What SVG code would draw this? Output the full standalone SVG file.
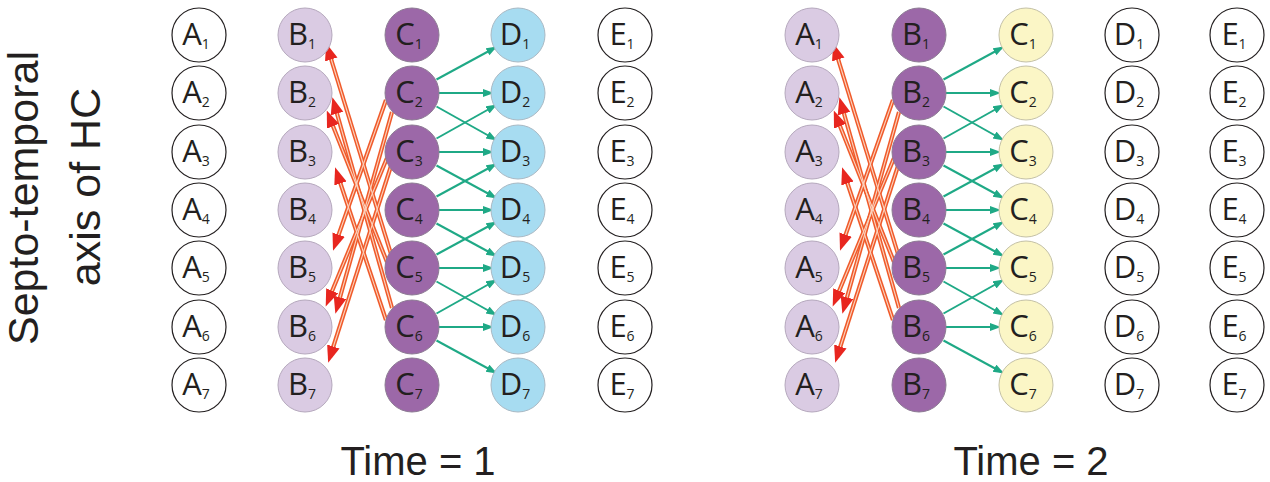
<svg xmlns="http://www.w3.org/2000/svg" width="1270" height="482" viewBox="0 0 1270 482">
<style>
.wh{fill:#ffffff;stroke:#231f20;stroke-width:1.2}
.lp{fill:#dacbe3;stroke:#b5a8bd;stroke-width:1}
.dp{fill:#9c68a8;stroke:#8c7a93;stroke-width:1}
.cy{fill:#a7dcf1;stroke:#a9b9c4;stroke-width:1}
.yl{fill:#fbf6c6;stroke:#c4c1a6;stroke-width:1}
.nodes text{font-family:"Open Sans","Noto Sans",sans-serif;font-size:31px;fill:#231f20;text-anchor:middle}
.s{font-size:14px}
.big{font-family:"Liberation Sans",Arial,sans-serif;fill:#231f20;text-anchor:middle}
.g{fill:none;stroke:#1fa986;stroke-width:2;marker-end:url(#gh)}
.ro{fill:none;stroke:#f05a2a;stroke-width:4.2}
.ri{fill:none;stroke:#fbd3bf;stroke-width:1.1;marker-end:url(#rh)}
</style>
<defs>
<marker id="gh" markerUnits="userSpaceOnUse" markerWidth="12" markerHeight="9" refX="8" refY="4" orient="auto"><path d="M0,0 L11,4 L0,8 z" fill="#1fa986"/></marker>
<marker id="rh" markerUnits="userSpaceOnUse" markerWidth="18" markerHeight="14" refX="11" refY="6.5" orient="auto"><path d="M0,0 L17,6.5 L0,13 z" fill="#e8261f"/></marker>
</defs>
<rect width="1270" height="482" fill="#ffffff"/>
<text class="big" font-size="43" transform="translate(38,198) rotate(-90)">Septo-temporal</text>
<text class="big" font-size="43" transform="translate(100,187) rotate(-90)">axis of HC</text>
<text class="big" font-size="40" x="418" y="475">Time = 1</text>
<text class="big" font-size="40" x="1031" y="475">Time = 2</text>
<g id="connectors">
<g id="red-left">
<path class="ro" d="M391 254 L328 49"/><path class="ro" d="M387 262 L329 116"/><path class="ro" d="M392 308 L334 103"/><path class="ro" d="M386 320 L337 173"/>
<path class="ro" d="M386 100 L335 245"/><path class="ro" d="M392 112 L337 308"/><path class="ro" d="M387 158 L328 301"/><path class="ro" d="M391 166 L330 357"/>
<path class="ri" d="M391 254 L328 49"/><path class="ri" d="M387 262 L329 116"/><path class="ri" d="M392 308 L334 103"/><path class="ri" d="M386 320 L337 173"/>
<path class="ri" d="M386 100 L335 245"/><path class="ri" d="M392 112 L337 308"/><path class="ri" d="M387 158 L328 301"/><path class="ri" d="M391 166 L330 357"/>
</g>
<g id="red-right">
<path class="ro" d="M898 254 L835 49"/><path class="ro" d="M894 262 L836 116"/><path class="ro" d="M899 308 L841 103"/><path class="ro" d="M893 320 L844 173"/>
<path class="ro" d="M893 100 L842 245"/><path class="ro" d="M899 112 L844 308"/><path class="ro" d="M894 158 L835 301"/><path class="ro" d="M898 166 L837 357"/>
<path class="ri" d="M898 254 L835 49"/><path class="ri" d="M894 262 L836 116"/><path class="ri" d="M899 308 L841 103"/><path class="ri" d="M893 320 L844 173"/>
<path class="ri" d="M893 100 L842 245"/><path class="ri" d="M899 112 L844 308"/><path class="ri" d="M894 158 L835 301"/><path class="ri" d="M898 166 L837 357"/>
</g>
<g id="green-left">
<path class="g" d="M436.5 79.5 L494.5 48"/><path class="g" d="M439 93 L491 93"/><path class="g" d="M436.5 106.5 L494.5 139"/>
<path class="g" d="M436.5 138.5 L494.5 106"/><path class="g" d="M439 152 L491 152"/><path class="g" d="M436.5 165.5 L494.5 197"/>
<path class="g" d="M436.5 196.5 L494.5 165"/><path class="g" d="M439 210 L491 210"/><path class="g" d="M436.5 223.5 L494.5 255"/>
<path class="g" d="M436.5 254.5 L494.5 223"/><path class="g" d="M439 268 L491 268"/><path class="g" d="M436.5 281.5 L494.5 314"/>
<path class="g" d="M436.5 313.5 L494.5 281"/><path class="g" d="M439 327 L491 327"/><path class="g" d="M436.5 340.5 L494.5 372"/>
</g>
<g id="green-right">
<path class="g" d="M943.5 79.5 L1001.5 48"/><path class="g" d="M946 93 L998 93"/><path class="g" d="M943.5 106.5 L1001.5 139"/>
<path class="g" d="M943.5 138.5 L1001.5 106"/><path class="g" d="M946 152 L998 152"/><path class="g" d="M943.5 165.5 L1001.5 197"/>
<path class="g" d="M943.5 196.5 L1001.5 165"/><path class="g" d="M946 210 L998 210"/><path class="g" d="M943.5 223.5 L1001.5 255"/>
<path class="g" d="M943.5 254.5 L1001.5 223"/><path class="g" d="M946 268 L998 268"/><path class="g" d="M943.5 281.5 L1001.5 314"/>
<path class="g" d="M943.5 313.5 L1001.5 281"/><path class="g" d="M946 327 L998 327"/><path class="g" d="M943.5 340.5 L1001.5 372"/>
</g>
</g>
<g class="nodes">
<g id="L-A1"><circle class="wh" cx="199" cy="35" r="27"/><text x="196" y="45">A<tspan class="s" dy="3.5">1</tspan></text></g>
<g id="L-A2"><circle class="wh" cx="199" cy="93" r="27"/><text x="196" y="103">A<tspan class="s" dy="3.5">2</tspan></text></g>
<g id="L-A3"><circle class="wh" cx="199" cy="152" r="27"/><text x="196" y="162">A<tspan class="s" dy="3.5">3</tspan></text></g>
<g id="L-A4"><circle class="wh" cx="199" cy="210" r="27"/><text x="196" y="220">A<tspan class="s" dy="3.5">4</tspan></text></g>
<g id="L-A5"><circle class="wh" cx="199" cy="268" r="27"/><text x="196" y="278">A<tspan class="s" dy="3.5">5</tspan></text></g>
<g id="L-A6"><circle class="wh" cx="199" cy="327" r="27"/><text x="196" y="337">A<tspan class="s" dy="3.5">6</tspan></text></g>
<g id="L-A7"><circle class="wh" cx="199" cy="385" r="27"/><text x="196" y="395">A<tspan class="s" dy="3.5">7</tspan></text></g>
<g id="L-B1"><circle class="lp" cx="305" cy="35" r="27"/><text x="302" y="45">B<tspan class="s" dy="3.5">1</tspan></text></g>
<g id="L-B2"><circle class="lp" cx="305" cy="93" r="27"/><text x="302" y="103">B<tspan class="s" dy="3.5">2</tspan></text></g>
<g id="L-B3"><circle class="lp" cx="305" cy="152" r="27"/><text x="302" y="162">B<tspan class="s" dy="3.5">3</tspan></text></g>
<g id="L-B4"><circle class="lp" cx="305" cy="210" r="27"/><text x="302" y="220">B<tspan class="s" dy="3.5">4</tspan></text></g>
<g id="L-B5"><circle class="lp" cx="305" cy="268" r="27"/><text x="302" y="278">B<tspan class="s" dy="3.5">5</tspan></text></g>
<g id="L-B6"><circle class="lp" cx="305" cy="327" r="27"/><text x="302" y="337">B<tspan class="s" dy="3.5">6</tspan></text></g>
<g id="L-B7"><circle class="lp" cx="305" cy="385" r="27"/><text x="302" y="395">B<tspan class="s" dy="3.5">7</tspan></text></g>
<g id="L-C1"><circle class="dp" cx="412" cy="35" r="27"/><text x="409" y="45">C<tspan class="s" dy="3.5">1</tspan></text></g>
<g id="L-C2"><circle class="dp" cx="412" cy="93" r="27"/><text x="409" y="103">C<tspan class="s" dy="3.5">2</tspan></text></g>
<g id="L-C3"><circle class="dp" cx="412" cy="152" r="27"/><text x="409" y="162">C<tspan class="s" dy="3.5">3</tspan></text></g>
<g id="L-C4"><circle class="dp" cx="412" cy="210" r="27"/><text x="409" y="220">C<tspan class="s" dy="3.5">4</tspan></text></g>
<g id="L-C5"><circle class="dp" cx="412" cy="268" r="27"/><text x="409" y="278">C<tspan class="s" dy="3.5">5</tspan></text></g>
<g id="L-C6"><circle class="dp" cx="412" cy="327" r="27"/><text x="409" y="337">C<tspan class="s" dy="3.5">6</tspan></text></g>
<g id="L-C7"><circle class="dp" cx="412" cy="385" r="27"/><text x="409" y="395">C<tspan class="s" dy="3.5">7</tspan></text></g>
<g id="L-D1"><circle class="cy" cx="518" cy="35" r="27"/><text x="515" y="45">D<tspan class="s" dy="3.5">1</tspan></text></g>
<g id="L-D2"><circle class="cy" cx="518" cy="93" r="27"/><text x="515" y="103">D<tspan class="s" dy="3.5">2</tspan></text></g>
<g id="L-D3"><circle class="cy" cx="518" cy="152" r="27"/><text x="515" y="162">D<tspan class="s" dy="3.5">3</tspan></text></g>
<g id="L-D4"><circle class="cy" cx="518" cy="210" r="27"/><text x="515" y="220">D<tspan class="s" dy="3.5">4</tspan></text></g>
<g id="L-D5"><circle class="cy" cx="518" cy="268" r="27"/><text x="515" y="278">D<tspan class="s" dy="3.5">5</tspan></text></g>
<g id="L-D6"><circle class="cy" cx="518" cy="327" r="27"/><text x="515" y="337">D<tspan class="s" dy="3.5">6</tspan></text></g>
<g id="L-D7"><circle class="cy" cx="518" cy="385" r="27"/><text x="515" y="395">D<tspan class="s" dy="3.5">7</tspan></text></g>
<g id="L-E1"><circle class="wh" cx="625" cy="35" r="27"/><text x="622" y="45">E<tspan class="s" dy="3.5">1</tspan></text></g>
<g id="L-E2"><circle class="wh" cx="625" cy="93" r="27"/><text x="622" y="103">E<tspan class="s" dy="3.5">2</tspan></text></g>
<g id="L-E3"><circle class="wh" cx="625" cy="152" r="27"/><text x="622" y="162">E<tspan class="s" dy="3.5">3</tspan></text></g>
<g id="L-E4"><circle class="wh" cx="625" cy="210" r="27"/><text x="622" y="220">E<tspan class="s" dy="3.5">4</tspan></text></g>
<g id="L-E5"><circle class="wh" cx="625" cy="268" r="27"/><text x="622" y="278">E<tspan class="s" dy="3.5">5</tspan></text></g>
<g id="L-E6"><circle class="wh" cx="625" cy="327" r="27"/><text x="622" y="337">E<tspan class="s" dy="3.5">6</tspan></text></g>
<g id="L-E7"><circle class="wh" cx="625" cy="385" r="27"/><text x="622" y="395">E<tspan class="s" dy="3.5">7</tspan></text></g>
<g id="R-A1"><circle class="lp" cx="812" cy="35" r="27"/><text x="809" y="45">A<tspan class="s" dy="3.5">1</tspan></text></g>
<g id="R-A2"><circle class="lp" cx="812" cy="93" r="27"/><text x="809" y="103">A<tspan class="s" dy="3.5">2</tspan></text></g>
<g id="R-A3"><circle class="lp" cx="812" cy="152" r="27"/><text x="809" y="162">A<tspan class="s" dy="3.5">3</tspan></text></g>
<g id="R-A4"><circle class="lp" cx="812" cy="210" r="27"/><text x="809" y="220">A<tspan class="s" dy="3.5">4</tspan></text></g>
<g id="R-A5"><circle class="lp" cx="812" cy="268" r="27"/><text x="809" y="278">A<tspan class="s" dy="3.5">5</tspan></text></g>
<g id="R-A6"><circle class="lp" cx="812" cy="327" r="27"/><text x="809" y="337">A<tspan class="s" dy="3.5">6</tspan></text></g>
<g id="R-A7"><circle class="lp" cx="812" cy="385" r="27"/><text x="809" y="395">A<tspan class="s" dy="3.5">7</tspan></text></g>
<g id="R-B1"><circle class="dp" cx="919" cy="35" r="27"/><text x="916" y="45">B<tspan class="s" dy="3.5">1</tspan></text></g>
<g id="R-B2"><circle class="dp" cx="919" cy="93" r="27"/><text x="916" y="103">B<tspan class="s" dy="3.5">2</tspan></text></g>
<g id="R-B3"><circle class="dp" cx="919" cy="152" r="27"/><text x="916" y="162">B<tspan class="s" dy="3.5">3</tspan></text></g>
<g id="R-B4"><circle class="dp" cx="919" cy="210" r="27"/><text x="916" y="220">B<tspan class="s" dy="3.5">4</tspan></text></g>
<g id="R-B5"><circle class="dp" cx="919" cy="268" r="27"/><text x="916" y="278">B<tspan class="s" dy="3.5">5</tspan></text></g>
<g id="R-B6"><circle class="dp" cx="919" cy="327" r="27"/><text x="916" y="337">B<tspan class="s" dy="3.5">6</tspan></text></g>
<g id="R-B7"><circle class="dp" cx="919" cy="385" r="27"/><text x="916" y="395">B<tspan class="s" dy="3.5">7</tspan></text></g>
<g id="R-C1"><circle class="yl" cx="1026" cy="35" r="27"/><text x="1023" y="45">C<tspan class="s" dy="3.5">1</tspan></text></g>
<g id="R-C2"><circle class="yl" cx="1026" cy="93" r="27"/><text x="1023" y="103">C<tspan class="s" dy="3.5">2</tspan></text></g>
<g id="R-C3"><circle class="yl" cx="1026" cy="152" r="27"/><text x="1023" y="162">C<tspan class="s" dy="3.5">3</tspan></text></g>
<g id="R-C4"><circle class="yl" cx="1026" cy="210" r="27"/><text x="1023" y="220">C<tspan class="s" dy="3.5">4</tspan></text></g>
<g id="R-C5"><circle class="yl" cx="1026" cy="268" r="27"/><text x="1023" y="278">C<tspan class="s" dy="3.5">5</tspan></text></g>
<g id="R-C6"><circle class="yl" cx="1026" cy="327" r="27"/><text x="1023" y="337">C<tspan class="s" dy="3.5">6</tspan></text></g>
<g id="R-C7"><circle class="yl" cx="1026" cy="385" r="27"/><text x="1023" y="395">C<tspan class="s" dy="3.5">7</tspan></text></g>
<g id="R-D1"><circle class="wh" cx="1132" cy="35" r="27"/><text x="1129" y="45">D<tspan class="s" dy="3.5">1</tspan></text></g>
<g id="R-D2"><circle class="wh" cx="1132" cy="93" r="27"/><text x="1129" y="103">D<tspan class="s" dy="3.5">2</tspan></text></g>
<g id="R-D3"><circle class="wh" cx="1132" cy="152" r="27"/><text x="1129" y="162">D<tspan class="s" dy="3.5">3</tspan></text></g>
<g id="R-D4"><circle class="wh" cx="1132" cy="210" r="27"/><text x="1129" y="220">D<tspan class="s" dy="3.5">4</tspan></text></g>
<g id="R-D5"><circle class="wh" cx="1132" cy="268" r="27"/><text x="1129" y="278">D<tspan class="s" dy="3.5">5</tspan></text></g>
<g id="R-D6"><circle class="wh" cx="1132" cy="327" r="27"/><text x="1129" y="337">D<tspan class="s" dy="3.5">6</tspan></text></g>
<g id="R-D7"><circle class="wh" cx="1132" cy="385" r="27"/><text x="1129" y="395">D<tspan class="s" dy="3.5">7</tspan></text></g>
<g id="R-E1"><circle class="wh" cx="1237" cy="35" r="27"/><text x="1234" y="45">E<tspan class="s" dy="3.5">1</tspan></text></g>
<g id="R-E2"><circle class="wh" cx="1237" cy="93" r="27"/><text x="1234" y="103">E<tspan class="s" dy="3.5">2</tspan></text></g>
<g id="R-E3"><circle class="wh" cx="1237" cy="152" r="27"/><text x="1234" y="162">E<tspan class="s" dy="3.5">3</tspan></text></g>
<g id="R-E4"><circle class="wh" cx="1237" cy="210" r="27"/><text x="1234" y="220">E<tspan class="s" dy="3.5">4</tspan></text></g>
<g id="R-E5"><circle class="wh" cx="1237" cy="268" r="27"/><text x="1234" y="278">E<tspan class="s" dy="3.5">5</tspan></text></g>
<g id="R-E6"><circle class="wh" cx="1237" cy="327" r="27"/><text x="1234" y="337">E<tspan class="s" dy="3.5">6</tspan></text></g>
<g id="R-E7"><circle class="wh" cx="1237" cy="385" r="27"/><text x="1234" y="395">E<tspan class="s" dy="3.5">7</tspan></text></g>
</g>
</svg>
